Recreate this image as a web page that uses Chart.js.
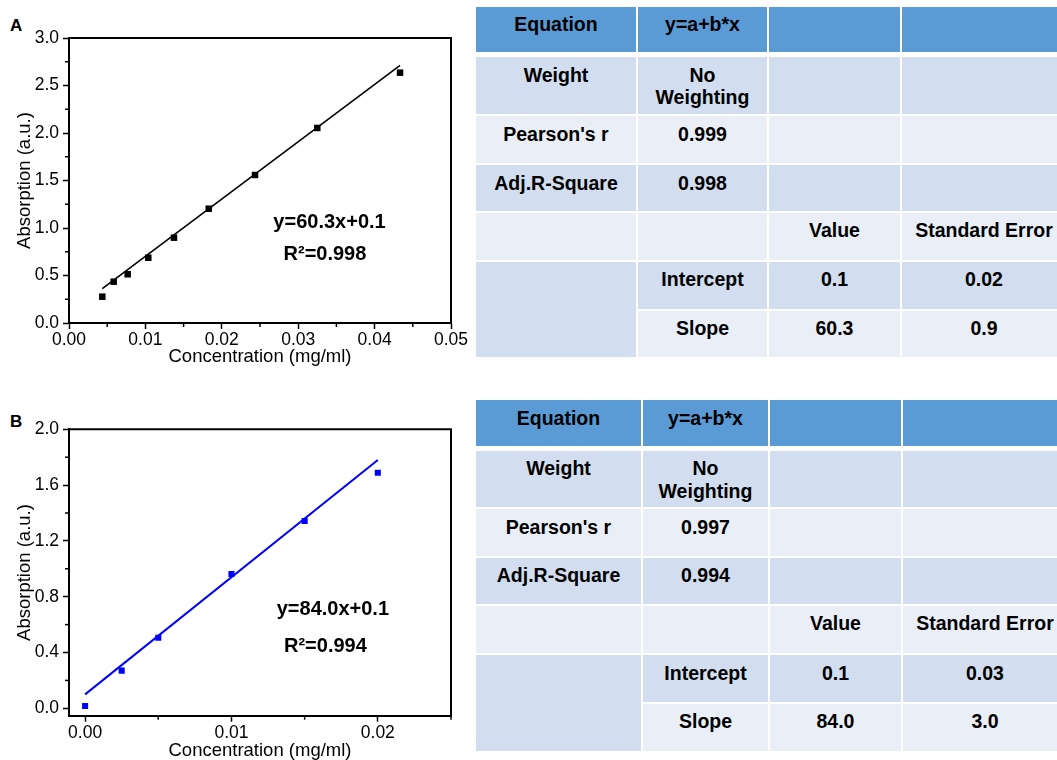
<!DOCTYPE html>
<html>
<head>
<meta charset="utf-8">
<title>Calibration curves</title>
<script src="https://cdn.jsdelivr.net/npm/chart.js@4.4.1/dist/chart.umd.min.js"></script>
<style>
  html, body { margin: 0; padding: 0; background: #fff; }
  body { width: 1057px; height: 760px; overflow: hidden; position: relative;
         font-family: 'Liberation Sans', Arial, sans-serif; }
  .panel-letter { position: absolute; left: 10px; font-weight: bold; font-size: 17px;
                  line-height: 17px; color: #000; }
  canvas.plot { position: absolute; left: 0; }
  table.fit { position: absolute; left: 474px; border-collapse: separate; border-spacing: 2px;
              table-layout: fixed; font-weight: bold; font-size: 19.5px; line-height: 22.5px; color: #000; }
  table.fit td { padding: 6.5px 0 0 0; vertical-align: top; text-align: center; white-space: nowrap;
                 overflow: visible; }
  table.fit tr.head td { background: #5b9bd5; border-bottom: 3.6px solid #fff; background-clip: padding-box; }
  table.fit tr.dark td, table.fit td.merged { background: #d2deef; }
  table.fit tr.light td { background: #eaeff7; }
</style>
</head>
<body>
<div class="panel-letter" style="top:17px">A</div>
<div class="panel-letter" style="top:412.5px">B</div>
<canvas id="plotA" class="plot" width="470" height="390" style="top:0"></canvas>
<canvas id="plotB" class="plot" width="470" height="400" style="top:390px"></canvas>
<table id="tableA" class="fit" style="top:4.7px"></table>
<table id="tableB" class="fit" style="top:398px"></table>

<script>
// ---- Panel A: standards, absorption vs concentration ----
const concA = [0.00436, 0.00585, 0.00768, 0.01038, 0.01374, 0.01829, 0.02435, 0.0325, 0.04333];
const absA = [0.277, 0.435, 0.513, 0.687, 0.898, 1.203, 1.558, 2.053, 2.635];
const slopeA = [60.3, 0.9];       // value, standard error
const interceptA = [0.1, 0.02];   // value, standard error
const pearsonA = 0.999;
const adjR2A = 0.998;
const xTicksA = ['0.00', '0.01', '0.02', '0.03', '0.04', '0.05'];
const yTicksA = ['0.0', '0.5', '1.0', '1.5', '2.0', '2.5', '3.0'];

// ---- Panel B ----
const concB = [0, 0.0025, 0.005, 0.01, 0.015, 0.02];
const absB = [0.017, 0.27, 0.506, 0.963, 1.343, 1.689];
const slopeB = [84.0, 3.0];
const interceptB = [0.1, 0.03];
const pearsonB = 0.997;
const adjR2B = 0.994;
const xTicksB = ['0.00', '0.01', '0.02'];
const yTicksB = ['0.0', '0.4', '0.8', '1.2', '1.6', '2.0'];

// ---- Fit summary table text ----
const statNames = ['Equation', 'Weight', "Pearson's r", 'Adj.R-Square'];
const paramNames = ['Intercept', 'Slope'];
const paramColumns = ['Value', 'Standard Error'];
const equationText = 'y=a+b*x';
const weightingText = ['No', 'Weighting'];

const FONT = "'Liberation Sans', Arial, sans-serif";
Chart.defaults.color = '#000';
Chart.defaults.font.family = FONT;

const eqLabel = (slope, intercept) => `y=${slope[0].toFixed(1)}x+${intercept[0].toFixed(1)}`;
const r2Label = r2 => `R\u00B2=${r2.toFixed(3)}`;

// Major ticks from the label list, minor ticks halfway between them.
function buildTicks(labels, min, max) {
  const major = labels.map(Number);
  const half = (major[1] - major[0]) / 2;
  const eps = half * 1e-6;
  const out = [];
  const before = major[0] - half;
  if (before >= min - eps) out.push({ value: before, major: false, text: '' });
  major.forEach((v, i) => {
    out.push({ value: v, major: true, text: labels[i] });
    if (v + half <= max + eps) out.push({ value: v + half, major: false, text: '' });
  });
  return out;
}

// Short outward minor tick marks
const minorTickPlugin = {
  id: 'minorTicks',
  afterDraw(chart) {
    const ctx = chart.ctx;
    ctx.save();
    ctx.strokeStyle = '#000';
    ctx.lineWidth = 1.5;
    Object.values(chart.scales).forEach(s => {
      s.ticks.forEach(t => {
        if (t.major) return;
        const p = s.getPixelForValue(t.value);
        ctx.beginPath();
        if (s.isHorizontal()) { ctx.moveTo(p, s.top); ctx.lineTo(p, s.top + 4); }
        else { ctx.moveTo(s.right, p); ctx.lineTo(s.right - 4, p); }
        ctx.stroke();
      });
    });
    ctx.restore();
  }
};

// Closes the plot box on the top and right sides
const framePlugin = {
  id: 'frame',
  afterDraw(chart) {
    const { ctx, chartArea: a } = chart;
    ctx.save();
    ctx.strokeStyle = '#000';
    ctx.lineWidth = 2;
    ctx.beginPath();
    ctx.moveTo(a.left - 1, a.top);
    ctx.lineTo(a.right, a.top);
    ctx.lineTo(a.right, a.bottom + 1);
    ctx.stroke();
    ctx.restore();
  }
};

// Fit equation and R² written inside the plot, anchored in data space
function fitTextPlugin(lines) {
  return {
    id: 'fitText',
    afterDatasetsDraw(chart) {
      const { ctx, scales: { x, y } } = chart;
      ctx.save();
      ctx.fillStyle = '#000';
      ctx.textAlign = 'center';
      ctx.textBaseline = 'middle';
      ctx.font = `bold 20px ${FONT}`;
      lines.forEach(l => ctx.fillText(l.text, x.getPixelForValue(l.x), y.getPixelForValue(l.y)));
      ctx.restore();
    }
  };
}

function linearAxis(position, range, labels, title, afterFit, titlePadding, tickPadding) {
  return {
    type: 'linear',
    position,
    min: range[0],
    max: range[1],
    afterBuildTicks: s => { s.ticks = buildTicks(labels, range[0], range[1]); },
    afterFit,
    ticks: {
      autoSkip: false, maxRotation: 0, padding: tickPadding, color: '#000',
      font: { family: FONT, size: 17.5 },
      callback: (v, i, t) => t[i].text
    },
    grid: {
      display: true, drawOnChartArea: false, drawTicks: true, tickLength: 6, tickWidth: 1.5,
      tickColor: c => (c.tick && c.tick.major) ? '#000' : 'rgba(0,0,0,0)'
    },
    border: { display: true, color: '#000', width: 2 },
    title: { display: true, text: title, color: '#000', font: { family: FONT, size: 18.5 }, padding: titlePadding }
  };
}

function scatterPanel(canvasId, p) {
  const canvas = document.getElementById(canvasId);
  const W = canvas.width, H = canvas.height;
  const halfTitle = 18.5 * 1.2 / 2;
  const points = p.conc.map((c, i) => ({ x: c, y: p.abs[i] }));
  const ends = [p.conc[0], p.conc[p.conc.length - 1]];
  const fitLine = ends.map(c => ({ x: c, y: p.slope[0] * c + p.intercept[0] }));
  return new Chart(canvas, {
    type: 'scatter',
    data: {
      datasets: [
        { data: points, pointStyle: 'rect', pointRadius: p.markerRadius, pointHoverRadius: p.markerRadius,
          backgroundColor: p.color, borderWidth: 0, order: 1 },
        { data: fitLine, showLine: true, borderColor: p.color, borderWidth: p.lineWidth,
          pointRadius: 0, pointHoverRadius: 0, order: 2 }
      ]
    },
    options: {
      responsive: false, animation: false, devicePixelRatio: 1, events: [],
      layout: { padding: { top: p.area.top, right: W - p.area.right, left: 0, bottom: 0 } },
      plugins: { legend: { display: false }, tooltip: { enabled: false } },
      scales: {
        x: linearAxis('bottom', p.xRange, p.xTicks, 'Concentration (mg/ml)',
          s => { s.height = H - p.area.bottom; },
          { top: 0, bottom: H - halfTitle - p.xTitleY }, 1),
        y: linearAxis('left', p.yRange, p.yTicks, 'Absorption (a.u.)',
          s => { s.width = p.area.left; },
          { top: p.yTitleX - halfTitle, bottom: 0 }, 4)
      }
    },
    plugins: [minorTickPlugin, framePlugin, fitTextPlugin(p.text)]
  });
}

scatterPanel('plotA', {
  conc: concA, abs: absA, slope: slopeA, intercept: interceptA,
  color: '#000000', lineWidth: 1.6, markerRadius: 4.6,
  xRange: [0, 0.05], yRange: [0, 3], xTicks: xTicksA, yTicks: yTicksA,
  area: { left: 69, right: 451, top: 38, bottom: 323 },
  xTitleY: 357, yTitleX: 25,
  text: [
    { text: eqLabel(slopeA, interceptA), x: 0.0341, y: 1.053 },
    { text: r2Label(adjR2A), x: 0.0335, y: 0.726 }
  ]
});

scatterPanel('plotB', {
  conc: concB, abs: absB, slope: slopeB, intercept: interceptB,
  color: '#0000ff', lineWidth: 2, markerRadius: 4.3,
  xRange: [-0.0011, 0.025], yRange: [-0.053, 2.0], xTicks: xTicksB, yTicks: yTicksB,
  area: { left: 69, right: 451, top: 39.3, bottom: 325.7 },
  xTitleY: 361, yTitleX: 25,
  text: [
    { text: eqLabel(slopeB, interceptB), x: 0.01693, y: 0.705 },
    { text: r2Label(adjR2B), x: 0.01642, y: 0.442 }
  ]
});

// ---- Fit summary tables ----
function buildTable(id, colWidths, rowHeights, slope, intercept, pearson, adjR2) {
  const table = document.getElementById(id);
  table.style.width = (colWidths.reduce((a, b) => a + b, 0) + 2 * (colWidths.length + 1)) + 'px';
  const cg = document.createElement('colgroup');
  colWidths.forEach(w => { const c = document.createElement('col'); c.style.width = w + 'px'; cg.appendChild(c); });
  table.appendChild(cg);

  const rows = [
    ['head', [statNames[0], equationText, '', '']],
    ['dark', [statNames[1], weightingText, '', '']],
    ['light', [statNames[2], pearson.toFixed(3), '', '']],
    ['dark', [statNames[3], adjR2.toFixed(3), '', '']],
    ['light', ['', '', paramColumns[0], paramColumns[1]]],
    ['dark', [{ merged: true }, paramNames[0], intercept[0].toFixed(1), intercept[1].toFixed(2)]],
    ['light', [paramNames[1], slope[0].toFixed(1), slope[1].toFixed(1)]]
  ];
  rows.forEach(([cls, cells], r) => {
    const tr = document.createElement('tr');
    tr.className = cls;
    tr.style.height = rowHeights[r] + 'px';
    cells.forEach(cell => {
      const td = document.createElement('td');
      if (cell && cell.merged) { td.rowSpan = 2; td.className = 'merged'; }
      else if (Array.isArray(cell)) {
        cell.forEach((line, k) => {
          if (k) td.appendChild(document.createElement('br'));
          td.appendChild(document.createTextNode(line));
        });
      } else td.textContent = cell;
      tr.appendChild(td);
    });
    table.appendChild(tr);
  });
}

buildTable('tableA', [160, 129, 131, 164], [48.6, 57, 47, 45.3, 47.3, 46.8, 46.7],
  slopeA, interceptA, pearsonA, adjR2A);
buildTable('tableB', [165, 125, 131, 164], [48.7, 56.6, 46.7, 46, 47.3, 46.4, 47],
  slopeB, interceptB, pearsonB, adjR2B);
</script>
</body>
</html>
